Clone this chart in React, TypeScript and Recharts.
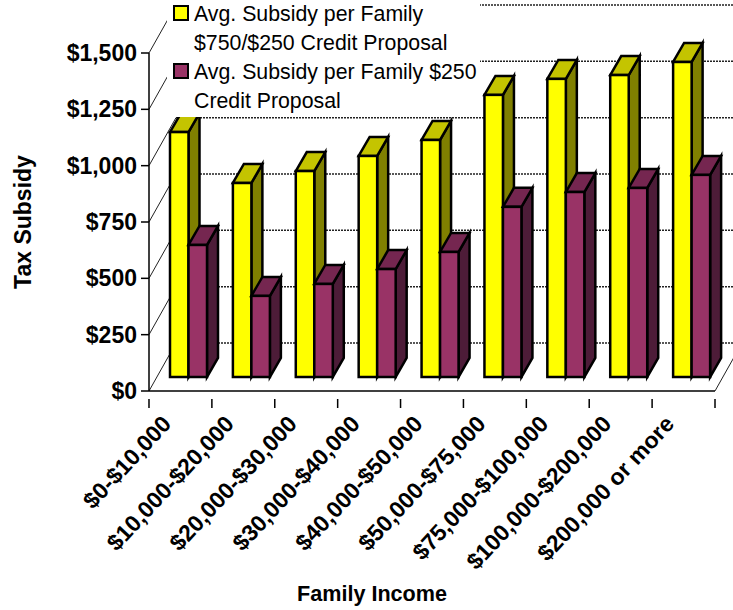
import React from 'react';
import { BarChart, Bar, XAxis, YAxis, CartesianGrid, Legend } from 'recharts';

const incomeBands = [
  '$0-$10,000',
  '$10,000-$20,000',
  '$20,000-$30,000',
  '$30,000-$40,000',
  '$40,000-$50,000',
  '$50,000-$75,000',
  '$75,000-$100,000',
  '$100,000-$200,000',
  '$200,000 or more',
];
const subsidy750 = [1087, 861, 914, 981, 1052, 1252, 1323, 1340, 1398];
const subsidy250 = [586, 360, 413, 479, 555, 755, 821, 839, 897];
const taxTicks = [0, 250, 500, 750, 1000, 1250, 1500];

const NAME_750 = 'Avg. Subsidy per Family $750/$250 Credit Proposal';
const NAME_250 = 'Avg. Subsidy per Family $250 Credit Proposal';
const FONT = '"Liberation Sans", Arial, sans-serif';

const data = incomeBands.map((band, i) => ({
  band,
  high: subsidy750[i],
  low: subsidy250[i],
}));

// top and side shades for each front colour
const SHADES: Record<string, { top: string; side: string }> = {
  '#FFFF00': { top: '#C4C400', side: '#808000' },
  '#993366': { top: '#752650', side: '#4D1C38' },
};

// how far the bars stand off the front edge of the floor, and how deep they are
const FLOOR_DX = 8;
const FLOOR_DY = 14;
const BAR_DX = 11;
const BAR_DY = 19;
// back wall offset from the axis
const WALL_DX = 27;
const WALL_DY = 48;
const BAND = 62.9;

const Bar3D = (props: any) => {
  const { x, y, width, height, fill } = props;
  const left = x + FLOOR_DX;
  const right = left + width;
  const top = y - FLOOR_DY;
  const bottom = top + height;
  const shade = SHADES[fill];
  return (
    <g stroke="#000" strokeWidth={2.5} strokeLinejoin="miter">
      <polygon
        fill={shade.side}
        points={`${right},${top} ${right + BAR_DX},${top - BAR_DY} ${right + BAR_DX},${bottom - BAR_DY} ${right},${bottom}`}
      />
      <polygon
        fill={shade.top}
        points={`${left},${top} ${left + BAR_DX},${top - BAR_DY} ${right + BAR_DX},${top - BAR_DY} ${right},${top}`}
      />
      <rect x={left} y={top} width={width} height={height} fill={fill} />
    </g>
  );
};

// wall gridline plus the slanted piece running back from the axis tick
const WallLine = (props: any) => {
  const { x1, x2, y1, index } = props;
  const isFloor = index === 0 || y1 > 380;
  return (
    <g key={`wall-${y1}`}>
      <line x1={x1} y1={y1} x2={x1 + WALL_DX} y2={y1 - WALL_DY} stroke="#222" strokeWidth={1} />
      <line
        x1={x1 + WALL_DX}
        y1={y1 - WALL_DY}
        x2={x2 + WALL_DX}
        y2={y1 - WALL_DY}
        stroke="#222"
        strokeWidth={1.5}
        strokeDasharray="2 1"
      />
      {isFloor && (
        <line x1={x2} y1={y1} x2={x2 + WALL_DX} y2={y1 - WALL_DY} stroke="#222" strokeWidth={1} />
      )}
    </g>
  );
};

const IncomeTick = (props: any) => {
  const { x, y, payload, index } = props;
  const labelX = x - 8;
  const labelY = y + 26;
  return (
    <g>
      <line x1={x - BAND / 2} y1={y} x2={x - BAND / 2} y2={y + 9} stroke="#000" strokeWidth={1.5} />
      {index === incomeBands.length - 1 && (
        <line x1={x + BAND / 2} y1={y} x2={x + BAND / 2} y2={y + 9} stroke="#000" strokeWidth={1.5} />
      )}
      <text
        x={labelX}
        y={labelY}
        textAnchor="end"
        transform={`rotate(-47 ${labelX} ${labelY})`}
        fontFamily={FONT}
        fontWeight="bold"
        fontSize={23}
        fill="#000"
      >
        {payload.value}
      </text>
    </g>
  );
};

const LegendKey = ({ color, lines }: { color: string; lines: string[] }) => (
  <div style={{ display: 'flex', alignItems: 'flex-start', height: 58 }}>
    <div
      style={{
        width: 12,
        height: 12,
        marginTop: 5,
        marginRight: 5,
        background: color,
        border: '2px solid #000',
        flex: 'none',
      }}
    />
    <div style={{ fontFamily: FONT, fontSize: 21.3, lineHeight: '29px', color: '#000', whiteSpace: 'nowrap' }}>
      {lines.map((l) => (
        <div key={l}>{l}</div>
      ))}
    </div>
  </div>
);

const CreditLegend = () => (
  <div style={{ background: '#fff', width: 313, height: 117, paddingLeft: 6, boxSizing: 'border-box' }}>
    <LegendKey color="#FFFF00" lines={['Avg. Subsidy per Family', '$750/$250 Credit Proposal']} />
    <LegendKey color="#993366" lines={['Avg. Subsidy per Family $250', 'Credit Proposal']} />
  </div>
);

export default function App() {
  return (
    <div style={{ position: 'absolute', left: 0, top: 0, width: 733, height: 610, overflow: 'hidden', background: '#fff' }}>
      <BarChart
        width={733}
        height={610}
        data={data}
        margin={{ top: 53, right: 18, bottom: 0, left: 0 }}
        barCategoryGap={13}
        barGap={0}
      >
        <CartesianGrid vertical={false} horizontal={(p: any) => <WallLine {...p} />} />
        <XAxis
          dataKey="band"
          height={219}
          interval={0}
          tickLine={false}
          axisLine={{ stroke: '#000', strokeWidth: 1.5 }}
          tick={<IncomeTick />}
          label={{
            value: 'Family Income',
            position: 'insideBottom',
            offset: 9,
            dx: -60,
            style: { fontFamily: FONT, fontWeight: 'bold', fontSize: 21.6, fill: '#000' },
          }}
        />
        <YAxis
          width={149}
          domain={[0, 1500]}
          ticks={taxTicks}
          tickSize={8}
          tickMargin={4}
          tickLine={{ stroke: '#000', strokeWidth: 1.5 }}
          axisLine={{ stroke: '#000', strokeWidth: 1.5 }}
          tickFormatter={(v: number) => `$${v.toLocaleString('en-US')}`}
          tick={{ fontFamily: FONT, fontWeight: 'bold', fontSize: 23, fill: '#000' }}
          label={{
            value: 'Tax Subsidy',
            angle: -90,
            position: 'insideLeft',
            offset: 23,
            style: { fontFamily: FONT, fontWeight: 'bold', fontSize: 23, fill: '#000', textAnchor: 'middle' },
          }}
        />
        <Bar dataKey="high" name={NAME_750} fill="#FFFF00" barSize={18.5} shape={<Bar3D />} isAnimationActive={false} />
        <Bar dataKey="low" name={NAME_250} fill="#993366" barSize={18.5} shape={<Bar3D />} isAnimationActive={false} />
        <Legend
          layout="horizontal"
          align="center"
          verticalAlign="middle"
          content={<CreditLegend />}
          wrapperStyle={{ left: 167, top: 0, width: 313, height: 117 }}
        />
      </BarChart>
    </div>
  );
}
